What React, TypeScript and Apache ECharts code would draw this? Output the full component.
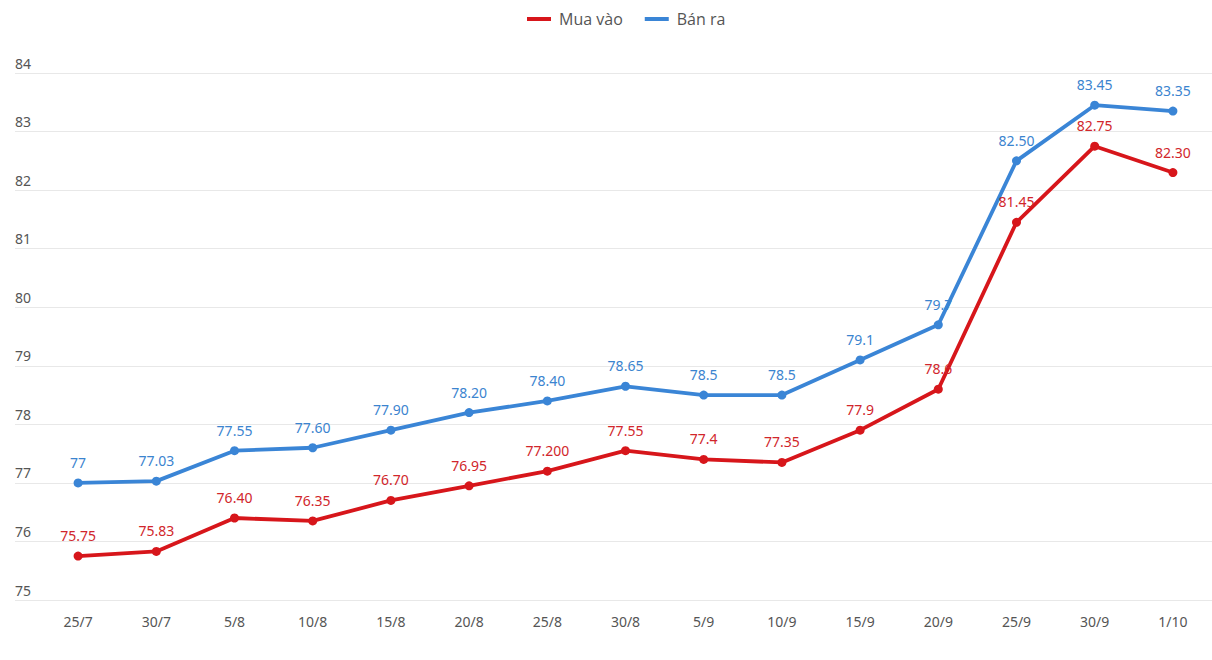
import React, { useEffect, useRef } from "react";
import * as echarts from "echarts";

const categories = ["25/7", "30/7", "5/8", "10/8", "15/8", "20/8", "25/8", "30/8", "5/9", "10/9", "15/9", "20/9", "25/9", "30/9", "1/10"];
const buyValues = [75.75, 75.83, 76.4, 76.35, 76.7, 76.95, 77.2, 77.55, 77.4, 77.35, 77.9, 78.6, 81.45, 82.75, 82.3];
const buyLabels = ["75.75", "75.83", "76.40", "76.35", "76.70", "76.95", "77.200", "77.55", "77.4", "77.35", "77.9", "78.6", "81.45", "82.75", "82.30"];
const sellValues = [77, 77.03, 77.55, 77.6, 77.9, 78.2, 78.4, 78.65, 78.5, 78.5, 79.1, 79.7, 82.5, 83.45, 83.35];
const sellLabels = ["77", "77.03", "77.55", "77.60", "77.90", "78.20", "78.40", "78.65", "78.5", "78.5", "79.1", "79.7", "82.50", "83.45", "83.35"];
const seriesNames = ["Mua vào", "Bán ra"];
const yMin = 75;
const yMax = 84;

const RED = "#d7161b";
const BLUE = "#3a85d6";
const FONT = "'Noto Sans', 'Open Sans', sans-serif";

export default function App() {
  const ref = useRef<HTMLDivElement>(null);
  useEffect(() => {
    if (!ref.current) return;
    const chart = echarts.init(ref.current, undefined, { renderer: "svg" });
    const mkSeries = (name: string, data: number[], labels: string[], color: string, labelColor: string) => ({
      name,
      type: "line",
      xAxisIndex: 1,
      yAxisIndex: 1,
      data,
      symbol: "circle",
      symbolSize: 9,
      lineStyle: { width: 3.8, color },
      itemStyle: { color },
      label: {
        show: true,
        position: "top",
        distance: 9,
        color: labelColor,
        fontSize: 14,
        fontFamily: FONT,
        formatter: (p: any) => labels[p.dataIndex],
      },
    });
    chart.setOption({
      animation: false,
      backgroundColor: "#fff",
      legend: {
        top: 6,
        left: 522,
        itemWidth: 24,
        itemHeight: 4,
        itemGap: 22,
        icon: "rect",
        textStyle: { fontSize: 16, color: "#555", fontFamily: "'Open Sans', sans-serif", padding: [0, 0, 0, 3] },
        data: seriesNames,
      },
      grid: [
        { left: 15, right: 0, top: 73, bottom: 60 },
        { left: 39, right: -3, top: 73, bottom: 60 },
      ],
      xAxis: [
        { gridIndex: 0, type: "category", data: categories, show: false },
        {
          gridIndex: 1,
          type: "category",
          data: categories,
          boundaryGap: true,
          axisLine: { show: false },
          axisTick: { show: false },
          axisLabel: { color: "#555", fontSize: 14, margin: 14, fontFamily: FONT },
        },
      ],
      yAxis: [
        {
          gridIndex: 0,
          type: "value",
          min: yMin,
          max: yMax,
          interval: 1,
          axisLine: { show: false },
          axisTick: { show: false },
          axisLabel: {
            inside: true,
            verticalAlign: "bottom",
            align: "left",
            margin: 0,
            padding: [0, 0, 3, 0],
            color: "#555",
            fontSize: 14,
            fontFamily: FONT,
          },
          splitLine: { lineStyle: { color: "#e8e8e8", width: 1 } },
        },
        { gridIndex: 1, type: "value", min: yMin, max: yMax, show: false, splitLine: { show: false } },
      ],
      series: [
        mkSeries(seriesNames[0], buyValues, buyLabels, RED, "#d1262b"),
        mkSeries(seriesNames[1], sellValues, sellLabels, BLUE, "#3b84cf"),
      ],
    });
    return () => chart.dispose();
  }, []);
  return <div ref={ref} style={{ width: 1212, height: 660, position: "absolute", left: 0, top: 0 }} />;
}
